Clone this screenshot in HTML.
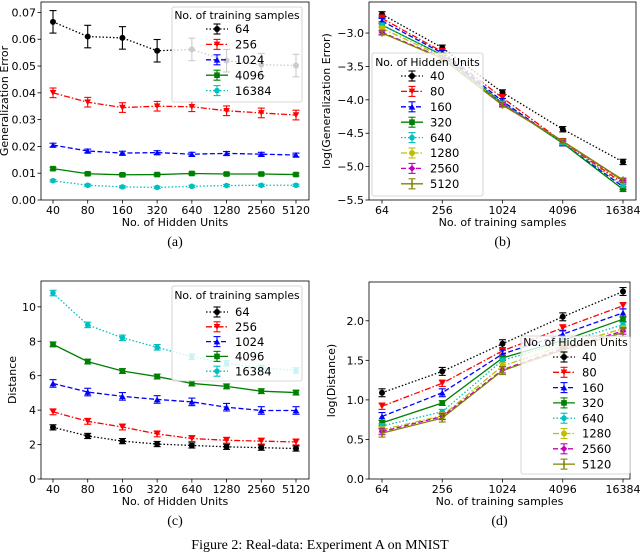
<!DOCTYPE html>
<html><head><meta charset="utf-8">
<style>
html,body{margin:0;padding:0;background:#fff;}
svg{display:block;font-family:"DejaVu Sans","Liberation Sans",sans-serif;}
</style></head>
<body>
<svg id="fig" width="640" height="557" viewBox="0 0 640 557" xmlns="http://www.w3.org/2000/svg">
<text x="320" y="549" text-anchor="middle" font-family="Liberation Serif, serif" font-size="14">Figure 2: Real-data: Experiment A on MNIST</text>
</svg>
<script>
// ---- data ----
const hiddenUnits = ["40","80","160","320","640","1280","2560","5120"];
const trainSamples = ["64","256","1024","4096","16384"];
// panel a: generalization error vs hidden units (series per training samples)
const errA64 = [0.0665,0.061,0.0605,0.0557,0.0562,0.052,0.0505,0.0502];
const errA256 = [0.040,0.0365,0.0345,0.035,0.0348,0.0333,0.0325,0.0317];
const errA1024 = [0.0205,0.0183,0.0175,0.0177,0.0171,0.0174,0.0171,0.0168];
const errA4096 = [0.0117,0.0098,0.0094,0.0095,0.0099,0.0097,0.0097,0.0095];
const errA16384 = [0.0072,0.0055,0.0049,0.0047,0.0051,0.0054,0.0055,0.0055];
const barA = [0.0042,0.0018,0.0007,0.0005,0.0004];
const ticksA = [0,0.01,0.02,0.03,0.04,0.05,0.06,0.07];
// panel b: log generalization error vs training samples (series per hidden units)
const logErr40 = [-2.72,-3.22,-3.89,-4.44,-4.93];
const logErr80 = [-2.78,-3.28,-3.97,-4.63,-5.25];
const logErr160 = [-2.82,-3.30,-4.02,-4.65,-5.30];
const logErr320 = [-2.88,-3.33,-4.05,-4.65,-5.34];
const logErr640 = [-2.88,-3.33,-4.05,-4.64,-5.28];
const logErr1280 = [-2.93,-3.35,-4.07,-4.62,-5.22];
const logErr2560 = [-2.99,-3.37,-4.07,-4.62,-5.21];
const logErr5120 = [-3.00,-3.38,-4.08,-4.62,-5.20];
const ticksB = [-5.5,-5.0,-4.5,-4.0,-3.5,-3.0];
// panel c: distance vs hidden units
const dist64 = [3.0,2.5,2.2,2.03,1.95,1.87,1.82,1.77];
const dist256 = [3.9,3.35,3.02,2.62,2.35,2.25,2.2,2.15];
const dist1024 = [5.55,5.05,4.8,4.62,4.48,4.17,3.98,3.98];
const dist4096 = [7.82,6.82,6.27,5.95,5.55,5.38,5.1,5.02];
const dist16384 = [10.8,8.95,8.2,7.65,7.1,6.72,6.45,6.3];
const barC = [0.15,0.17,0.22,0.14,0.16];
const ticksC = [0,2,4,6,8,10];
// panel d: log distance vs training samples
const logDist40 = [1.09,1.36,1.71,2.05,2.37];
const logDist80 = [0.92,1.21,1.62,1.91,2.19];
const logDist160 = [0.79,1.09,1.58,1.83,2.10];
const logDist320 = [0.71,0.96,1.53,1.75,2.02];
const logDist640 = [0.67,0.85,1.50,1.72,1.95];
const logDist1280 = [0.62,0.80,1.43,1.68,1.90];
const logDist2560 = [0.60,0.79,1.38,1.65,1.87];
const logDist5120 = [0.58,0.77,1.37,1.63,1.85];
const ticksD = [0.0,0.5,1.0,1.5,2.0];

// ---- styles ----
const sty5 = [
 {c:"#000000",d:"1.5,2",m:"o"},{c:"#ff0000",d:"6,2,1.5,2",m:"v"},{c:"#0000ff",d:"5,2.5",m:"^"},
 {c:"#008000",d:"",m:"s"},{c:"#00bfbf",d:"1.5,2",m:"*"}];
const sty8 = [
 {c:"#000000",d:"1.5,2",m:"o"},{c:"#ff0000",d:"6,2,1.5,2",m:"v"},{c:"#0000ff",d:"5,2.5",m:"^"},
 {c:"#008000",d:"",m:"s"},{c:"#00bfbf",d:"1.5,2",m:"*"},{c:"#bfbf00",d:"6,2,1.5,2",m:"o"},
 {c:"#bf00bf",d:"5,2.5",m:"D"},{c:"#808000",d:"",m:"|"}];

const NS="http://www.w3.org/2000/svg";
const svg=document.getElementById('fig');
function mk(tag,attrs,parent){const e=document.createElementNS(NS,tag);for(const k in attrs)e.setAttribute(k,attrs[k]);(parent||svg).appendChild(e);return e;}
function marker(g,m,x,y,c){
  let e;
  if(m==="o"){e=mk('circle',{cx:x,cy:y,r:3,fill:c},g);}
  else if(m==="v"){e=mk('polygon',{points:`${x-3.3},${y-2.8} ${x+3.3},${y-2.8} ${x},${y+3}`,fill:c},g);}
  else if(m==="^"){e=mk('polygon',{points:`${x-3.3},${y+2.8} ${x+3.3},${y+2.8} ${x},${y-3}`,fill:c},g);}
  else if(m==="s"){e=mk('rect',{x:x-2.8,y:y-2.8,width:5.6,height:5.6,fill:c},g);}
  else if(m==="D"){e=mk('polygon',{points:`${x},${y-3.3} ${x+3.3},${y} ${x},${y+3.3} ${x-3.3},${y}`,fill:c},g);}
  else if(m==="*"){e=mk('circle',{cx:x,cy:y,r:2.8,fill:c},g);}
  else {e=mk('line',{x1:x,y1:y-3.5,x2:x,y2:y+3.5,stroke:c,'stroke-width':1.5},g);}
  
  
}
function panel(cfg){
  const g=mk('g',{});
  
  
  const {x0,x1,y0,y1,ymin,ymax,cx0,cx1}=cfg;
  const n=cfg.cats.length;
  const xs=i=>cx0+(cx1-cx0)*i/(n-1);
  const ys=v=>y1-(v-ymin)/(ymax-ymin)*(y1-y0);
  cfg.series.forEach((s,si)=>{
    const st=cfg.styles[si];
    const sg=mk('g',{},g);
    
    
    const pts=s.map((v,i)=>xs(i)+','+ys(v)).join(' ');
    mk('polyline',{points:pts,fill:'none',stroke:st.c,'stroke-width':1.3,'stroke-dasharray':st.d},sg);
    s.forEach((v,i)=>{
      const e=cfg.err[si];
      const x=xs(i);
      mk('line',{x1:x,x2:x,y1:ys(v-e),y2:ys(v+e),stroke:st.c,'stroke-width':1.1},sg);
      mk('line',{x1:x-3.5,x2:x+3.5,y1:ys(v-e),y2:ys(v-e),stroke:st.c,'stroke-width':1.1},sg);
      mk('line',{x1:x-3.5,x2:x+3.5,y1:ys(v+e),y2:ys(v+e),stroke:st.c,'stroke-width':1.1},sg);
      marker(sg,st.m,x,ys(v),st.c);
    });
  });
  const fr=mk('rect',{x:x0,y:y0,width:x1-x0,height:y1-y0,fill:'none',stroke:'#000','stroke-width':0.8},g);
  
  
  cfg.cats.forEach((c,i)=>{
    const x=xs(i);
    mk('line',{x1:x,x2:x,y1:y1,y2:y1+3.5,stroke:'#000','stroke-width':0.8},g);
    const t=mk('text',{x:x,y:y1+14,'text-anchor':'middle','font-size':11},g);t.textContent=c;
    
    
  });
  cfg.ticks.forEach(v=>{
    const y=ys(v);
    mk('line',{x1:x0-3.5,x2:x0,y1:y,y2:y,stroke:'#000','stroke-width':0.8},g);
    const t=mk('text',{x:x0-5,y:y+4,'text-anchor':'end','font-size':11},g);
    t.textContent=cfg.fmt(v).replace('-','\u2212');
    
    
  });
  const xl=mk('text',{x:(x0+x1)/2,y:y1+26,'text-anchor':'middle','font-size':11},g);xl.textContent=cfg.xlabel;
  
  
  const yx=cfg.ylx, yy=(y0+y1)/2;
  const yl=mk('text',{x:yx,y:yy,'text-anchor':'middle','font-size':11,transform:`rotate(-90 ${yx} ${yy})`},g);yl.textContent=cfg.ylabel;
  
  
  const sub=mk('text',{x:(x0+x1)/2,y:y1+46,'text-anchor':'middle','font-size':14,'font-family':'Liberation Serif, serif'},g);sub.textContent=cfg.sub;
  
  
  const L=cfg.leg;
  const lg=mk('g',{},g);
  
  
  mk('rect',{x:L.x,y:L.y,width:L.w,height:L.h,rx:2,fill:'#fff','fill-opacity':0.8,stroke:'#ccc','stroke-width':0.8},lg);
  const tt=mk('text',{x:L.x+L.w/2,y:L.ty+4,'text-anchor':'middle','font-size':10.8},lg);tt.textContent=L.title;
  
  
  cfg.labels.forEach((lab,i)=>{
    const st=cfg.styles[i];const y=L.r0+i*L.dy;
    const eg=mk('g',{},lg);
    
    
    mk('line',{x1:L.hx,x2:L.hx+22,y1:y,y2:y,stroke:st.c,'stroke-width':1.3,'stroke-dasharray':st.d},eg);
    const mx=L.hx+11;
    mk('line',{x1:mx,x2:mx,y1:y-5,y2:y+5,stroke:st.c,'stroke-width':1.1},eg);
    mk('line',{x1:mx-3.5,x2:mx+3.5,y1:y-5,y2:y-5,stroke:st.c,'stroke-width':1.1},eg);
    mk('line',{x1:mx-3.5,x2:mx+3.5,y1:y+5,y2:y+5,stroke:st.c,'stroke-width':1.1},eg);
    marker(eg,st.m,mx,y,st.c);
    const t=mk('text',{x:L.hx+29,y:y+4.2,'font-size':11.5},eg);t.textContent=lab;
  });
}
const f2=v=>v.toFixed(2), f1=v=>v.toFixed(1), f0=v=>v.toFixed(0);
panel({name:'panel-a',x0:41,x1:309,y0:2,y1:200,ymin:0,ymax:0.0739,cx0:53,cx1:296,
  cats:hiddenUnits,series:[errA64,errA256,errA1024,errA4096,errA16384],err:barA,styles:sty5,labels:trainSamples,
  ticks:ticksA,fmt:f2,xlabel:'No. of Hidden Units',ylabel:'Generalization Error',ylx:8,sub:'(a)',
  leg:{x:172,y:7,w:130,h:95,title:'No. of training samples',ty:15,r0:29,dy:15.4,hx:206}});
panel({name:'panel-b',x0:369,x1:636,y0:2,y1:200,ymin:-5.5,ymax:-2.535,cx0:382,cx1:623,
  cats:trainSamples,series:[logErr40,logErr80,logErr160,logErr320,logErr640,logErr1280,logErr2560,logErr5120],
  err:[0.04,0.05,0.04,0.03,0.03,0.03,0.03,0.03],styles:sty8,labels:hiddenUnits,
  ticks:ticksB,fmt:f1,xlabel:'No. of training samples',ylabel:'log(Generalization Error)',ylx:330,sub:'(b)',
  leg:{x:372,y:53,w:111,h:143,title:'No. of Hidden Units',ty:62,r0:76,dy:15.4,hx:401}});
panel({name:'panel-c',x0:41,x1:309,y0:281,y1:479,ymin:0,ymax:11.5,cx0:53,cx1:296,
  cats:hiddenUnits,series:[dist64,dist256,dist1024,dist4096,dist16384],err:barC,styles:sty5,labels:trainSamples,
  ticks:ticksC,fmt:f0,xlabel:'No. of Hidden Units',ylabel:'Distance',ylx:16,sub:'(c)',
  leg:{x:172,y:286,w:130,h:95,title:'No. of training samples',ty:295,r0:312,dy:14.8,hx:206}});
panel({name:'panel-d',x0:369,x1:630,y0:282,y1:479,ymin:0,ymax:2.49,cx0:382,cx1:623,
  cats:trainSamples,series:[logDist40,logDist80,logDist160,logDist320,logDist640,logDist1280,logDist2560,logDist5120],
  err:[0.05,0.04,0.05,0.03,0.03,0.04,0.04,0.05],styles:sty8,labels:hiddenUnits,
  ticks:ticksD,fmt:f1,xlabel:'No. of training samples',ylabel:'log(Distance)',ylx:335,sub:'(d)',
  leg:{x:521,y:336,w:109,h:138,title:'No. of Hidden Units',ty:342,r0:357,dy:15.3,hx:553}});
</script>
</body></html>
